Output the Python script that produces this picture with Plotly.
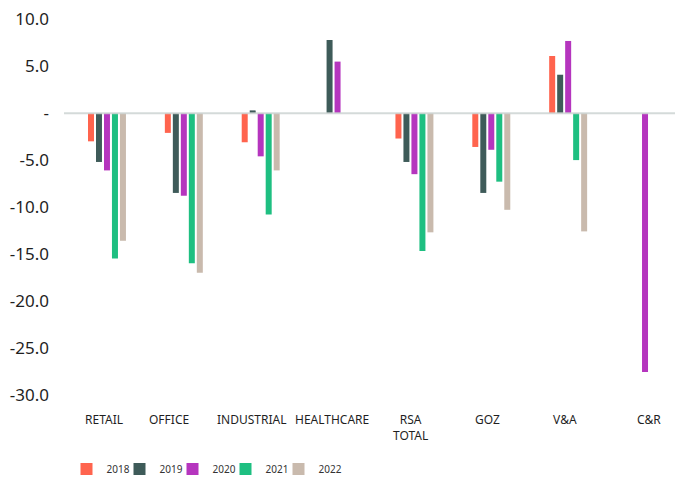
import plotly.graph_objects as go

# Categories and yearly values
categories = ["RETAIL", "OFFICE", "INDUSTRIAL", "HEALTHCARE", "RSA<br>TOTAL", "GOZ", "V&A", "C&R"]
years = ["2018", "2019", "2020", "2021", "2022"]

v2018 = [-3.0, -2.1, -3.1, None, -2.7, -3.6, 6.1, None]
v2019 = [-5.2, -8.5, 0.3, 7.8, -5.2, -8.5, 4.1, None]
v2020 = [-6.1, -8.8, -4.6, 5.5, -6.5, -3.9, 7.7, -27.6]
v2021 = [-15.5, -16.0, -10.8, None, -14.7, -7.3, -5.0, None]
v2022 = [-13.6, -17.0, -6.1, None, -12.7, -10.3, -12.6, None]

series = [v2018, v2019, v2020, v2021, v2022]
colors = ["#FF644E", "#3E5B59", "#B535BE", "#1EBF81", "#C9BAAD"]

tick_vals = [10, 5, 0, -5, -10, -15, -20, -25, -30]
tick_text = ["10.0", "5.0", "-", "-5.0", "-10.0", "-15.0", "-20.0", "-25.0", "-30.0"]

FONT = "Noto Sans"
X_RANGE = [-0.559, 7.39]
PLOT_W = 675 - 64
PX_PER_CAT = PLOT_W / (X_RANGE[1] - X_RANGE[0])

# small horizontal nudges (px) of the category captions relative to the bar groups
label_nudge_px = [-3, -15, -9, -6, -4, -4, -3, 4]

fig = go.Figure()
legend_ids = ["legend", "legend2", "legend3", "legend4", "legend5"]
for name, vals, col, lg in zip(years, series, colors, legend_ids):
    fig.add_trace(go.Bar(
        x=categories, y=vals, name=name, legend=lg,
        marker=dict(color=col, line=dict(width=0)),
    ))

# zero baseline drawn over the bars
fig.add_shape(type="line", xref="paper", yref="y", x0=0, x1=1, y0=0, y1=0,
              line=dict(color="rgba(205,212,210,0.85)", width=2), layer="above")

# category captions under the plot
for i, (cat, d) in enumerate(zip(categories, label_nudge_px)):
    fig.add_annotation(
        x=i, xref="x", y=0, yref="paper", yanchor="top", xanchor="center",
        xshift=d, yshift=-5, text=cat, showarrow=False, align="center",
        font=dict(family=FONT, size=12, color="#1f1f1f"),
    )

legend_common = dict(
    orientation="h", xref="container", xanchor="left",
    y=(477 - 469) / 477, yref="container", yanchor="middle",
    font=dict(family=FONT, size=10, color="#333333"),
    itemwidth=30, bgcolor="rgba(0,0,0,0)",
)
legends = {}
for i, lg in enumerate(legend_ids):
    legends[lg] = dict(legend_common, x=(66.5 + 53 * i) / 675)

fig.update_layout(
    width=675, height=477,
    margin=dict(l=64, r=0, t=10, b=72.6, autoexpand=False),
    paper_bgcolor="white", plot_bgcolor="white",
    barmode="group", bargap=0.48, bargroupgap=0.25,
    showlegend=True,
    font=dict(family=FONT, color="#1f1f1f"),
    xaxis=dict(
        type="category", range=X_RANGE,
        showgrid=False, zeroline=False, showline=False, automargin=False,
        ticks="", showticklabels=False,
    ),
    yaxis=dict(
        range=[-31, 11], tickvals=tick_vals, ticktext=tick_text,
        showgrid=False, zeroline=False, showline=False, automargin=False,
        ticks="", ticklabelstandoff=14,
        tickfont=dict(family=FONT, size=17, color="#1f1f1f"),
    ),
    **legends,
)

fig.write_html("out.html")
